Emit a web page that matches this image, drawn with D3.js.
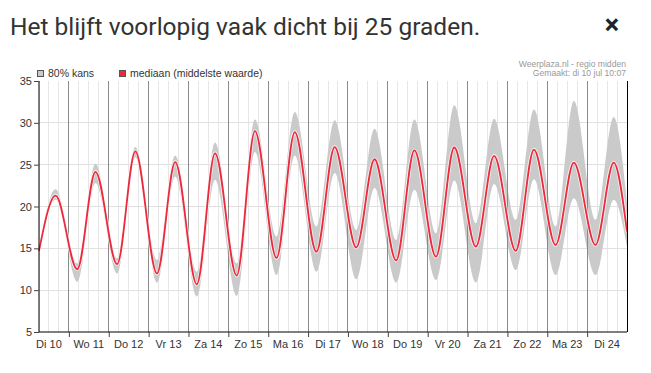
<!DOCTYPE html>
<html>
<head>
<meta charset="utf-8">
<script src="https://cdn.jsdelivr.net/npm/d3@7"></script>
<style>
  html, body { margin: 0; padding: 0; background: #fff; }
  svg { display: block; }
</style>
</head>
<body>
<div id="chart"></div>
<script>
// ---- data (hours since Di 10 00:00) ----
const dayLabels = ["Di 10","Wo 11","Do 12","Vr 13","Za 14","Zo 15","Ma 16","Di 17","Wo 18","Do 19","Vr 20","Za 21","Zo 22","Ma 23","Di 24"];
const yTicks = [5, 10, 15, 20, 25, 30, 35];
const hours  = [6, 16, 29, 40, 53, 64, 77, 88, 101, 112, 125, 136, 149, 160, 173, 184, 197, 208, 221, 232, 245, 256, 269, 280, 293, 304, 317, 328, 341, 352, 360];
const median = [14.7, 21.3, 12.5, 24.15, 13.1, 26.6, 12.0, 25.3, 10.7, 26.35, 11.75, 29.0, 13.85, 28.9, 14.6, 27.1, 15.1, 25.65, 13.55, 26.7, 14.0, 27.05, 15.2, 26.05, 14.7, 26.8, 15.4, 25.25, 15.4, 25.25, 17.0];
const upper  = [15.0, 22.05, 13.2, 25.1, 13.8, 27.1, 13.6, 26.1, 12.2, 27.65, 13.2, 30.4, 16.4, 31.3, 17.6, 30.3, 17.2, 29.3, 16.0, 30.4, 16.8, 32.1, 18.0, 30.5, 18.4, 31.6, 17.6, 32.6, 18.4, 30.7, 20.4];
const lower  = [14.4, 20.8, 11.0, 22.8, 12.0, 25.9, 10.9, 23.6, 9.25, 23.2, 9.3, 26.5, 11.8, 26.1, 12.2, 24.0, 11.3, 22.2, 10.9, 22.0, 11.2, 23.1, 10.9, 22.7, 12.4, 23.25, 11.8, 21.0, 11.8, 20.8, 15.2];

const W = 651, H = 373;
const m = { left: 39, right: 24, top: 81, bottom: 41 };
const svg = d3.select("#chart").append("svg").attr("width", W).attr("height", H);

const x = d3.scaleLinear().domain([6, 360]).range([m.left, W - m.right]);
const y = d3.scaleLinear().domain([5, 35]).range([H - m.bottom, m.top]);

const font = "Arial, 'Liberation Sans', sans-serif";

// title
svg.append("text").attr("x", 10).attr("y", 35)
  .attr("font-family", "Roboto, sans-serif").attr("font-size", 24.5).attr("fill", "#333")
  .text("Het blijft voorlopig vaak dicht bij 25 graden.");
svg.append("text").attr("x", 612).attr("y", 34).attr("text-anchor", "middle")
  .attr("font-family", "Roboto, sans-serif").attr("font-size", 27).attr("font-weight", "bold").attr("fill", "#222")
  .text("×");

// grid
const g = svg.append("g");
const minorHours = d3.range(6, 361, 6);
g.selectAll(".vminor").data(minorHours.filter(h => h % 24 !== 0)).enter().append("line")
  .attr("x1", d => x(d)).attr("x2", d => x(d)).attr("y1", y(35)).attr("y2", y(5))
  .attr("stroke", "#e6e6e6").attr("stroke-width", 1).attr("shape-rendering", "crispEdges");
g.selectAll(".hgrid").data(yTicks.filter(v => v > 5 && v < 35)).enter().append("line")
  .attr("x1", x(6)).attr("x2", x(360)).attr("y1", d => y(d)).attr("y2", d => y(d))
  .attr("stroke", "#e0e0e0").attr("stroke-width", 1).attr("shape-rendering", "crispEdges");

// band
const area = d3.area().x(d => x(d.h)).y0(d => y(d.lo)).y1(d => y(d.hi)).curve(d3.curveMonotoneX);
const pts = hours.map((h, i) => ({ h, lo: lower[i], hi: upper[i], md: median[i] }));
g.append("path").datum(pts).attr("d", area).attr("fill", "#cacaca");

// day lines
const dayHours = d3.range(24, 360, 24);
g.selectAll(".vday").data(dayHours).enter().append("line")
  .attr("x1", d => x(d)).attr("x2", d => x(d)).attr("y1", y(35)).attr("y2", y(5))
  .attr("stroke", "#8a8a8a").attr("stroke-width", 1).attr("shape-rendering", "crispEdges");

// median
const line = d3.line().x(d => x(d.h)).y(d => y(d.md)).curve(d3.curveMonotoneX);
g.append("path").datum(pts).attr("d", line).attr("fill", "none").attr("stroke", "#fff").attr("stroke-opacity", 0.8).attr("stroke-width", 3.6);
g.append("path").datum(pts).attr("d", line).attr("fill", "none").attr("stroke", "#ec2a3c").attr("stroke-width", 1.8);

// axes
const yAxis = d3.axisLeft(y).tickValues(yTicks).tickSize(5).tickPadding(2);
const ya = svg.append("g").attr("transform", `translate(${m.left},0)`).call(yAxis);
ya.select(".domain").attr("d", `M0,${y(35)}V${y(5)}`).attr("stroke", "#000");
ya.selectAll(".tick line").attr("stroke", "#444");
ya.selectAll("text").attr("font-family", font).attr("font-size", 11).attr("fill", "#333");

const xAxis = d3.axisBottom(x).tickValues(dayHours).tickSize(5).tickFormat("");
const xa = svg.append("g").attr("transform", `translate(0,${y(5)})`).call(xAxis);
xa.select(".domain").attr("d", `M${x(6)},0H${x(360)}`).attr("stroke", "#000");
xa.selectAll(".tick line").attr("stroke", "#444");

svg.append("g").selectAll("text").data(dayLabels).enter().append("text")
  .attr("x", (d, i) => x(i * 24 + 12)).attr("y", y(5) + 16).attr("text-anchor", "middle")
  .attr("font-family", font).attr("font-size", 11).attr("fill", "#333").text(d => d);

// right border
svg.append("line").attr("x1", x(360)).attr("x2", x(360)).attr("y1", y(35)).attr("y2", y(5))
  .attr("stroke", "#000").attr("shape-rendering", "crispEdges");

// legend
const lg = svg.append("g").attr("font-family", font).attr("font-size", 10.5).attr("fill", "#333");
lg.append("rect").attr("x", 37.5).attr("y", 70.5).attr("width", 6).attr("height", 6).attr("fill", "#cacaca").attr("stroke", "#555");
lg.append("text").attr("x", 48).attr("y", 77).text("80% kans");
lg.append("rect").attr("x", 119.5).attr("y", 70.5).attr("width", 6).attr("height", 6).attr("fill", "#ec2a3c").attr("stroke", "#555");
lg.append("text").attr("x", 130).attr("y", 77).text("mediaan (middelste waarde)");

// source
const src = svg.append("g").attr("font-family", font).attr("font-size", 8.6).attr("fill", "#999").attr("text-anchor", "end");
src.append("text").attr("x", 626).attr("y", 67).text("Weerplaza.nl - regio midden");
src.append("text").attr("x", 626).attr("y", 76).text("Gemaakt: di 10 jul 10:07");
</script>
</body>
</html>
